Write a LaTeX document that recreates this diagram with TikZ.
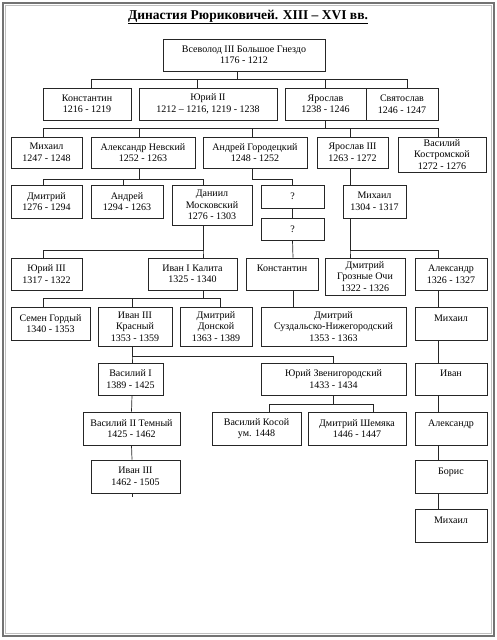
\documentclass[tikz,border=0pt]{standalone}
\usepackage{fontspec}
\setmainfont{Liberation Serif}
\usetikzlibrary{calc}

\begin{document}
\begin{tikzpicture}[
  x=1pt,y=-1pt,
  box/.style={rectangle,draw=black!85,line width=0.7pt,fill=white,inner sep=1pt,minimum height=32pt,align=center,font=\fontsize{10}{11.5}\selectfont},
  tall/.style={box,minimum height=39pt},
  qbox/.style={box,minimum height=23pt},
  link/.style={draw=black!85,line width=0.7pt},
  title/.style={font=\fontsize{13.5}{15}\selectfont\bfseries}
]
  \useasboundingbox (0,0) rectangle (497,640);
  % Frame and title
  \draw[black!55,line width=1.8pt] (3,3) rectangle (494,636);
  \draw[black!25,line width=0.6pt] (5.5,5.5) rectangle (491.5,633.5);
  \node[title] (head) at (248,17) {\underline{Династия Рюриковичей. XIII – XVI вв.}};

  % Generation 1 and 2
  \node[box,minimum width=162pt] (vsev)   at (244,55)    {Всеволод III Большое Гнездо\\1176 - 1212};
  \node[box,minimum width=88pt]  (konst1) at (87,104)    {Константин\\1216 - 1219};
  \node[box,minimum width=138pt] (yuri2)  at (208,104)   {Юрий II\\1212 – 1216, 1219 - 1238};
  \node[box,minimum width=81pt]  (yarosl) at (325.5,104) {Ярослав\\1238 - 1246};
  \node[box,minimum width=72pt]  (svyat)  at (402,104)   {Святослав\\1246 - 1247};

  % Sons of Yaroslav
  \node[box,minimum width=71pt,minimum height=31pt]  (mikh1) at (46.5,152.5) {Михаил\\1247 - 1248};
  \node[box,minimum width=104pt,minimum height=31pt] (anev)  at (143,152.5)  {Александр Невский\\1252 - 1263};
  \node[box,minimum width=104pt,minimum height=31pt] (agor)  at (255,152.5)  {Андрей Городецкий\\1248 - 1252};
  \node[box,minimum width=71pt,minimum height=31pt]  (yar3)  at (352.5,152.5) {Ярослав III\\1263 - 1272};
  \node[box,minimum width=88pt,minimum height=35pt]  (vkostr) at (442,154.5) {Василий\\Костромской\\1272 - 1276};

  % Next row
  \node[box,minimum width=71pt,minimum height=33pt] (dmitr1) at (46.5,201.5) {Дмитрий\\1276 - 1294};
  \node[box,minimum width=72pt,minimum height=33pt] (andr)   at (127,201.5)  {Андрей\\1294 - 1263};
  \node[tall,minimum width=80pt,minimum height=40pt] (daniil) at (212,205)   {Даниил\\Московский\\1276 - 1303};
  \node[qbox,minimum width=63pt] (q1) at (292.5,196.5) {?};
  \node[qbox,minimum width=63pt,minimum height=22pt] (q2) at (292.5,229) {?};
  \node[box,minimum width=63pt,minimum height=33pt] (mikh2) at (374.5,201.5) {Михаил\\1304 - 1317};

  % Fourteenth century
  \node[box,minimum width=71pt] (yuri3)  at (46.5,274)  {Юрий III\\1317 - 1322};
  \node[box,minimum width=89pt] (ivan1)  at (192.5,274) {Иван I Калита\\1325 - 1340};
  \node[box,minimum width=72pt] (konst2) at (282,274)   {Константин\\~};
  \node[tall,minimum width=80pt,minimum height=37pt] (dgroz) at (365,276.5) {Дмитрий\\Грозные Очи\\1322 - 1326};
  \node[box,minimum width=72pt] (alex1)  at (451,274)   {Александр\\1326 - 1327};

  \node[box,minimum width=79pt,minimum height=33pt] (semen) at (50.5,323.5) {Семен Гордый\\1340 - 1353};
  \node[tall,minimum width=74pt]  (ivan2) at (135,326.5)   {Иван III\\Красный\\1353 - 1359};
  \node[tall,minimum width=72pt]  (ddon)  at (216,326.5)   {Дмитрий\\Донской\\1363 - 1389};
  \node[tall,minimum width=145pt] (dsuzd) at (333.5,326.5) {Дмитрий\\Суздальско-Нижегородский\\1353 - 1363};
  \node[box,minimum width=72pt,minimum height=33pt] (mikh3) at (451,323.5) {Михаил\\~};

  \node[box,minimum width=65pt]  (vas1)  at (130.5,379) {Василий I\\1389 - 1425};
  \node[box,minimum width=145pt] (yzven) at (333.5,379) {Юрий Звенигородский\\1433 - 1434};
  \node[box,minimum width=72pt]  (ivanR) at (451,379)   {Иван\\~};

  % Fifteenth century
  \node[box,minimum width=97pt,minimum height=33pt] (vas2)   at (131.5,428.5) {Василий II Темный\\1425 - 1462};
  \node[box,minimum width=89pt,minimum height=33pt] (vkosoy) at (256.5,428.5) {Василий Косой\\ум. 1448};
  \node[box,minimum width=98pt,minimum height=33pt] (dshem)  at (357,428.5)   {Дмитрий Шемяка\\1446 - 1447};
  \node[box,minimum width=72pt,minimum height=33pt] (alexR)  at (451,428.5)   {Александр\\~};

  \node[box,minimum width=89pt,minimum height=33pt] (ivan3) at (135.5,476.5) {Иван III\\1462 - 1505};
  \node[box,minimum width=72pt,minimum height=33pt] (boris) at (451,476.5)   {Борис\\~};
  \node[box,minimum width=72pt,minimum height=33pt] (mikh4) at (451,525.5)   {Михаил\\~};

  % Vsevolod -> sons
  \draw[link] ([xshift=-7pt]vsev.south) -- ++(0,8) -| ([xshift=4pt]konst1.north);
  \draw[link] ([xshift=-7pt]vsev.south) -- ++(0,8) -| ([xshift=-11pt]yuri2.north);
  \draw[link] ([xshift=-7pt]vsev.south) -- ++(0,8) -| (yarosl.north);
  \draw[link] ([xshift=-7pt]vsev.south) -- ++(0,8) -| ([xshift=5pt]svyat.north);

  % Yaroslav -> sons
  \draw[link] (yarosl.south) -- ++(0,8) -| ([xshift=-3.5pt]mikh1.north);
  \draw[link] (yarosl.south) -- ++(0,8) -| ([xshift=-4pt]anev.north);
  \draw[link] (yarosl.south) -- ++(0,8) -| ([xshift=-3pt]agor.north);
  \draw[link] (yarosl.south) -- ++(0,8) -| ([xshift=-2.5pt]yar3.north);
  \draw[link] (yarosl.south) -- ++(0,8) -| ([xshift=-4pt]vkostr.north);

  % Alexander Nevsky -> sons
  \draw[link] ([xshift=-4pt]anev.south) -- ++(0,11) -| ([xshift=-3.5pt]dmitr1.north);
  \draw[link] ([xshift=-4pt]anev.south) -- ++(0,11) -| ([xshift=-4pt]andr.north);
  \draw[link] ([xshift=-4pt]anev.south) -- ++(0,11) -| ([xshift=-9pt]daniil.north);

  % Andrey Gorodetsky line
  \draw[link] ([xshift=-3pt]agor.south) -- ++(0,11) -| (q1.north);
  \draw[link] (q1.south) -- (q2.north);
  \draw[link] (q2.south) -- ([xshift=11pt]konst2.north);
  \draw[link] ([xshift=11pt]konst2.south) -- ([xshift=-40.5pt]dsuzd.north);

  % Tver line
  \draw[link] ([xshift=-2.5pt]yar3.south) -- ([xshift=-24.5pt]mikh2.north);
  \draw[link] ([xshift=-24.5pt]mikh2.south) -- ++(0,32) -| ([xshift=-15pt]dgroz.north);
  \draw[link] ([xshift=-24.5pt]mikh2.south) -- ++(0,32) -| ([xshift=-13pt]alex1.north);
  \draw[link] ([xshift=-13pt]alex1.south) -- ([xshift=-13pt]mikh3.north);
  \draw[link] ([xshift=-13pt]mikh3.south) -- ([xshift=-13pt]ivanR.north);
  \draw[link] ([xshift=-13pt]ivanR.south) -- ([xshift=-13pt]alexR.north);
  \draw[link] ([xshift=-13pt]alexR.south) -- ([xshift=-13pt]boris.north);
  \draw[link] ([xshift=-13pt]boris.south) -- ([xshift=-13pt]mikh4.north);

  % Moscow line
  \draw[link] ([xshift=-9pt]daniil.south) -- ++(0,25) -| ([xshift=-3.5pt]yuri3.north);
  \draw[link] ([xshift=-9pt]daniil.south) -- ++(0,25) -| ([xshift=10.5pt]ivan1.north);
  \draw[link] ([xshift=11pt]ivan1.south) -- ++(0,8) -| ([xshift=-7.5pt]semen.north);
  \draw[link] ([xshift=11pt]ivan1.south) -- ++(0,8) -| ([xshift=-3pt]ivan2.north);
  \draw[link] ([xshift=11pt]ivan1.south) -- ++(0,8) -| ([xshift=4pt]ddon.north);
  \draw[link] ([xshift=-3pt]ivan2.south) -- ++(0,10) -| ([xshift=1.5pt]vas1.north);
  \draw[link] ([xshift=-3pt]ivan2.south) -- ++(0,10) -| (yzven.north);
  \draw[link] ([xshift=1.5pt]vas1.south) -- (vas2.north);
  \draw[link] (yzven.south) -- ++(0,9) -| ([xshift=12.5pt]vkosoy.north);
  \draw[link] (yzven.south) -- ++(0,9) -| ([xshift=16pt]dshem.north);
  \draw[link] (vas2.south) -- ([xshift=-3.5pt]ivan3.north);
  \draw[link] ([xshift=-3.5pt]ivan3.south) -- ++(0,4) coordinate (tail);
\end{tikzpicture}
\end{document}
